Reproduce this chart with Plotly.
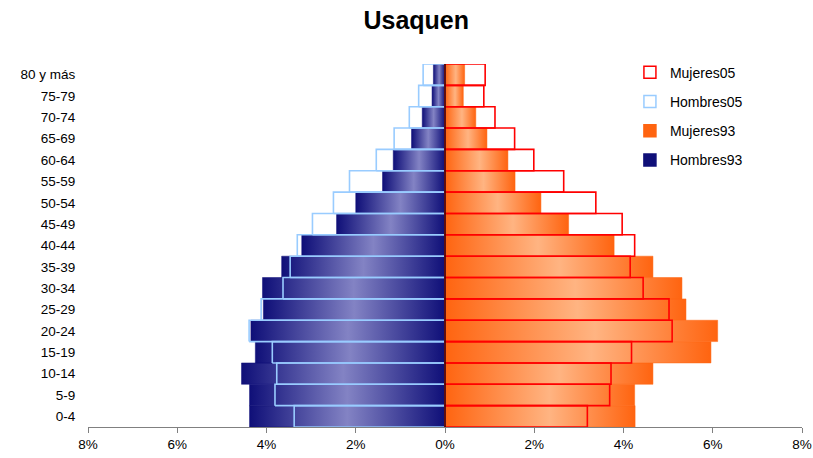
import plotly.graph_objects as go

categories = ["0-4", "5-9", "10-14", "15-19", "20-24", "25-29", "30-34", "35-39",
              "40-44", "45-49", "50-54", "55-59", "60-64", "65-69", "70-74", "75-79", "80 y más"]
mujeres93 = [4.26, 4.25, 4.66, 5.96, 6.11, 5.40, 5.31, 4.66, 3.79, 2.77, 2.15, 1.57, 1.41, 0.94, 0.69, 0.41, 0.44]
mujeres05 = [3.19, 3.69, 3.72, 4.18, 5.09, 5.02, 4.44, 4.15, 4.25, 3.97, 3.38, 2.66, 1.99, 1.56, 1.12, 0.87, 0.90]
hombres93 = [4.38, 4.38, 4.56, 4.25, 4.35, 4.07, 4.09, 3.66, 3.21, 2.43, 2.00, 1.40, 1.16, 0.75, 0.51, 0.29, 0.26]
hombres05 = [3.38, 3.81, 3.77, 3.87, 4.39, 4.12, 3.63, 3.47, 3.31, 2.97, 2.50, 2.14, 1.54, 1.14, 0.80, 0.59, 0.49]
x_ticks = [-8, -6, -4, -2, 0, 2, 4, 6, 8]
x_tick_labels = ["8%", "6%", "4%", "2%", "0%", "2%", "4%", "6%", "8%"]
title = "Usaquen"

FONT = "Liberation Sans, Arial, sans-serif"
NAVY, LAVENDER = "#0f0f78", "#8383c4"
ORANGE, PEACH = "#ff6410", "#ffb482"
RED, LIGHTBLUE = "#ff0000", "#99ccff"

fig = go.Figure()

def rect(x0, x1, yc):
    return [x0, x1, x1, x0, x0], [yc - 0.5, yc - 0.5, yc + 0.5, yc + 0.5, yc - 0.5]

# 1993 gradient bars
for i, v in enumerate(hombres93):
    xs, ys = rect(-v, 0, i)
    fig.add_trace(go.Scatter(x=xs, y=ys, mode="lines", fill="toself",
                             line=dict(width=0.5, color=NAVY),
                             fillgradient=dict(type="horizontal",
                                               colorscale=[[0, NAVY], [0.5, LAVENDER], [1, NAVY]]),
                             showlegend=False, hoverinfo="skip"))
for i, v in enumerate(mujeres93):
    xs, ys = rect(0, v, i)
    fig.add_trace(go.Scatter(x=xs, y=ys, mode="lines", fill="toself",
                             line=dict(width=0.5, color=ORANGE),
                             fillgradient=dict(type="horizontal",
                                               colorscale=[[0, ORANGE], [0.55, PEACH], [1, ORANGE]]),
                             showlegend=False, hoverinfo="skip"))

# 2005 outline bars
def outlines(values, sign):
    X, Y = [], []
    for i, v in enumerate(values):
        xs, ys = rect(min(0, sign * v), max(0, sign * v), i)
        X += xs + [None]
        Y += ys + [None]
    return X, Y

hx, hy = outlines(hombres05, -1)
fig.add_trace(go.Scatter(x=hx, y=hy, mode="lines", line=dict(width=1.6, color=LIGHTBLUE),
                         showlegend=False, hoverinfo="skip"))
mx, my = outlines(mujeres05, 1)
fig.add_trace(go.Scatter(x=mx, y=my, mode="lines", line=dict(width=1.6, color=RED),
                         showlegend=False, hoverinfo="skip"))

# legend entries
for name, fill, line in [("Mujeres05", "white", RED), ("Hombres05", "white", LIGHTBLUE),
                         ("Mujeres93", ORANGE, ORANGE), ("Hombres93", NAVY, NAVY)]:
    fig.add_trace(go.Bar(x=[None], y=[None], orientation="h", name=name, legendgroup=name,
                         marker=dict(color=fill, line=dict(color=line, width=1.5))))

fig.add_shape(type="line", xref="x", yref="paper", x0=0, x1=0, y0=0, y1=1,
              line=dict(color="black", width=1.2), layer="above")

fig.update_layout(
    width=813, height=458,
    margin=dict(l=88, r=11, t=64, b=31, autoexpand=False),
    paper_bgcolor="white", plot_bgcolor="white",
    font=dict(family=FONT, size=13.5, color="black"),
    title=dict(text="<b>" + title + "</b>", x=0.512, xref="container", xanchor="center",
               y=0.955, yref="container", yanchor="middle",
               font=dict(family=FONT, size=25, color="black")),
    showlegend=True,
    legend=dict(x=0.759, y=1.02, xanchor="left", yanchor="top", bgcolor="rgba(0,0,0,0)",
                tracegroupgap=8, traceorder="grouped", font=dict(size=14),
                itemwidth=30),
    xaxis=dict(range=[-8, 8], tickvals=x_ticks, ticktext=x_tick_labels, showgrid=False,
               zeroline=False, showline=True, linecolor="#808080", linewidth=1.2,
               ticks="outside", ticklen=5, tickcolor="#808080", tickfont=dict(size=13.5),
               automargin=False),
    yaxis=dict(range=[-0.5, 16.5], tickvals=list(range(len(categories))), ticktext=categories,
               showgrid=False, zeroline=False, showline=False, ticks="outside", ticklen=9,
               tickcolor="rgba(0,0,0,0)", tickfont=dict(size=13.5), automargin=False),
)

fig.write_html("out.html", config={"displayModeBar": False},
               post_script="document.body.style.margin='0';")
